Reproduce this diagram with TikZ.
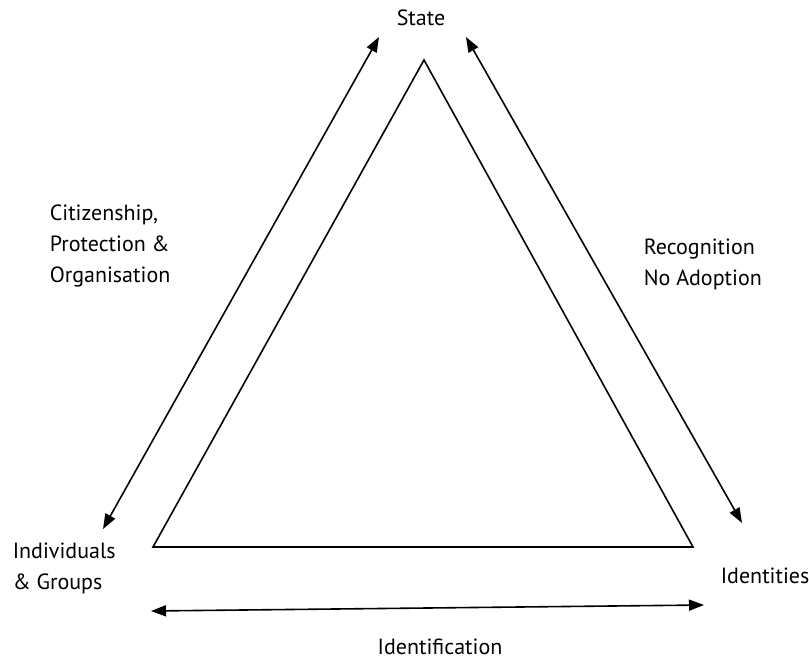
\documentclass[tikz,border=0pt]{standalone}
\usepackage{fontspec}
\setmainfont{PT Sans}
\usetikzlibrary{arrows.meta}
\begin{document}
\begin{tikzpicture}[x=1pt, y=-1pt, line width=1.6pt, >={Triangle[length=15pt, width=11pt]}, font=\fontsize{22}{31}\selectfont]%

\def\leninnersep{0pt}
\useasboundingbox (0,0) rectangle (809,661);

% triangle
\draw (424,60) coordinate (apex) -- (693,547) coordinate (right-corner) -- (153,547) coordinate (left-corner) -- cycle;

\node[anchor=base, inner sep=\leninnersep] (state) at (421,26) {State};

\node[anchor=base west, inner sep=\leninnersep, align=left] (individuals) at (12,589) {Individuals\\\& Groups};

\node[anchor=base west, inner sep=\leninnersep] (identities) at (720,583) {Identities};

\node[anchor=base, inner sep=\leninnersep] (identification) at (440,654) {Identification};

\node[anchor=base west, inner sep=\leninnersep, align=left] (citizenship) at (49,282) {Citizenship,\\Protection \&\\Organisation};

\node[anchor=base west, inner sep=\leninnersep, align=left] (recognition) at (643,285) {Recognition\\No Adoption};

% arrows
\coordinate (sl-top) at (379,37);
\coordinate (sl-bot) at (103,529);
\coordinate (sr-top) at (466,37);
\coordinate (sr-bot) at (742,523);
\coordinate (b-left) at (151,611);
\coordinate (b-right) at (704,605);

\draw[<->] (sl-top) -- (sl-bot);
\draw[<->] (sr-top) -- (sr-bot);
\draw[<->] (b-left) -- (b-right);

\end{tikzpicture}
\end{document}
